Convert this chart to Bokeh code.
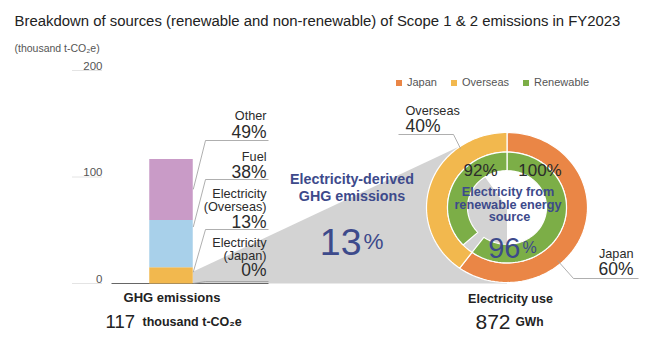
import numpy as np
from bokeh.plotting import figure
from bokeh.models import Range1d, Legend, LegendItem
from bokeh.core.properties import value
from bokeh.embed import file_html
from bokeh.resources import INLINE

# ---------------- data ----------------
ghg_sources = ["Electricity (Japan)", "Electricity (Overseas)", "Fuel", "Other"]
ghg_share_pct = [0, 13, 38, 49]
ghg_values = [0.0, 15.2, 44.5, 57.3]          # thousand t-CO2e
ghg_total = 117
axis_ticks = [0, 100, 200]
axis_tick_labels = ["0", "100", "200"]

elec_regions = ["Japan", "Overseas"]
elec_share_pct = [60, 40]
renewable_pct = [100, 92]
renewable_total_pct = 96
elec_ghg_pct = 13
elec_use_gwh = 872

# ---------------- style / layout ----------------
W, H = 650, 340
BASE = 283.0      # pixel row of the zero line
K = 1.065         # pixels per thousand t-CO2e
FONT = "Liberation Sans"
NAVY = "#3d4a8b"
DARK = "#2b2b2b"
LEAD = "#9a9a9a"
bar_colors = {"Electricity (Japan)": "#ea8646", "Electricity (Overseas)": "#f2b84e",
              "Fuel": "#a8d0ea", "Other": "#c99bc7"}
ring_colors = {"Japan": "#ea8646", "Overseas": "#f2b84e"}
GREEN = "#7cae47"


def Y(py):
    return (BASE - py) / K


p = figure(width=W, height=H, output_backend="svg", toolbar_location=None,
           x_range=Range1d(0, W), y_range=Range1d(Y(H), Y(0)),
           min_border=0, min_border_left=0, min_border_right=0,
           min_border_top=0, min_border_bottom=0)
p.axis.visible = False
p.grid.visible = False
p.outline_line_color = None
p.background_fill_color = "white"


def T(x, py, s, size, color=DARK, align="left", bold=False, baseline="middle"):
    p.text(x=[x], y=[Y(py)], text=[s], text_font=value(FONT),
           text_font_size=f"{size}px", text_align=align, text_baseline=baseline,
           text_color=color, text_font_style="bold" if bold else "normal")


# ---------------- donut geometry ----------------
CX, CY = 506.5, Y(207)
ASP = 0.932
R_OUT, R_MID, R_IN = 80.5, 59.5, 39.5


def arc_patch(t0, t1, r_out, r_in):
    th = np.radians(np.linspace(t0, t1, 80))
    xo = CX + r_out * np.sin(th)
    yo = CY + r_out * ASP / K * np.cos(th)
    xi = CX + r_in * np.sin(th[::-1])
    yi = CY + r_in * ASP / K * np.cos(th[::-1])
    return list(np.concatenate([xo, xi])), list(np.concatenate([yo, yi]))


# ---------------- grey wedge ----------------
BAR_X, BAR_W = 170.5, 43.5
bar_right = BAR_X + BAR_W / 2
tang = np.radians(326)
tx = CX + R_OUT * np.sin(tang)
ty = CY + R_OUT * ASP / K * np.cos(tang)
p.patch(x=[bar_right, bar_right, tx, CX, CX], y=[0, ghg_values[1] * 0.72, ty, CY, 0],
        fill_color="#d3d3d3", line_color=None)

# ---------------- axis ticks (text) ----------------
p.segment(x0=[72] * 3, x1=[102] * 3, y0=axis_ticks, y1=axis_ticks,
          line_color="#c8c8c8", line_dash="1 1", line_width=1)
p.text(x=[102] * 3, y=axis_ticks, text=axis_tick_labels, text_font=value(FONT),
       text_font_size="11.5px", text_align="right", text_baseline="bottom",
       text_color="#555555", y_offset=-1)
p.segment(x0=[111], x1=[268], y0=[0], y1=[0], line_color="#666666", line_width=1)

# ---------------- stacked bar ----------------
bottoms = list(np.cumsum([0] + ghg_values[:-1]))
tops = list(np.cumsum(ghg_values))
p.vbar(x=[BAR_X] * len(ghg_values), width=BAR_W, bottom=bottoms, top=tops,
       fill_color=[bar_colors[s] for s in ghg_sources], line_color=None)

# ---------------- donut ----------------
angles = np.cumsum([0] + [v * 3.6 for v in elec_share_pct])
outer_r = {}
for i, reg in enumerate(elec_regions):
    xs, ys = arc_patch(angles[i], angles[i + 1], R_OUT, R_MID)
    outer_r[reg] = p.patch(x=xs, y=ys, fill_color=ring_colors[reg],
                           line_color="white", line_width=1.2)
gx, gy = [], []
for i, reg in enumerate(elec_regions):
    span = angles[i + 1] - angles[i]
    start = angles[i] + (1 - renewable_pct[i] / 100) * span
    xs, ys = arc_patch(start, angles[i + 1], R_MID, R_IN)
    gx.append(xs)
    gy.append(ys)
r_green = p.patches(xs=gx, ys=gy, fill_color=GREEN, line_color="white", line_width=1.2)

legend = Legend(items=[LegendItem(label="Japan", renderers=[outer_r["Japan"]]),
                       LegendItem(label="Overseas", renderers=[outer_r["Overseas"]]),
                       LegendItem(label="Renewable", renderers=[r_green])],
                orientation="horizontal", location=(394, 252),
                glyph_width=9, glyph_height=9, label_height=10, label_standoff=4,
                spacing=12, padding=0, margin=0, border_line_color=None,
                background_fill_alpha=0, label_text_font=FONT,
                label_text_font_size="11px", label_text_color="#555555")
p.add_layout(legend)

# ---------------- title ----------------
T(14, 20, "Breakdown of sources (renewable and non-renewable) of Scope 1 & 2 emissions in FY2023", 14.9, "#222222")
T(14, 47, "(thousand t-CO\u2082e)", 10.5, "#555555")

# ---------------- bar labels and leaders ----------------
label_lines = {
    "Other": (["Other"], [115.7], 131.0, 140),
    "Fuel": (["Fuel"], [156.0], 171.0, 179),
    "Electricity (Overseas)": (["Electricity", "(Overseas)"], [193.3, 206.5], 221.0, 229),
    "Electricity (Japan)": (["Electricity", "(Japan)"], [242.7, 255.5], 269.5, 281),
}
lead_frac = {"Other": 0.5, "Fuel": 0.85, "Electricity (Overseas)": 0.7, "Electricity (Japan)": 0.0}
for i, src in enumerate(ghg_sources):
    lines, pys, pct_py, line_py = label_lines[src]
    for s, py in zip(lines, pys):
        T(266, py, s, 12.7, DARK, "right")
    T(266, pct_py, f"{ghg_share_pct[i]}%", 17.5, DARK, "right")
    end_y = bottoms[i] + lead_frac[src] * ghg_values[i]
    p.line(x=[268, 205, bar_right + 0.5], y=[Y(line_py), Y(line_py), end_y],
           line_color=LEAD, line_width=0.8)

# ---------------- centre annotation ----------------
T(351.5, 178.5, "Electricity-derived", 14.3, NAVY, "center", True)
T(351.5, 195.5, "GHG emissions", 14.3, NAVY, "center", True)
T(361, 241, f"{elec_ghg_pct}", 37.5, NAVY, "right", baseline="alphabetic")
T(363, 241, "%", 22.5, NAVY, "left", baseline="alphabetic")

# ---------------- donut labels ----------------
T(480, 170, f"{renewable_pct[1]}%", 17, DARK, "center")
T(539.5, 170, f"{renewable_pct[0]}%", 17, DARK, "center")
T(507.5, 191.7, "Electricity from", 12.7, NAVY, "center", True)
T(507.5, 204.5, "renewable energy", 12.7, NAVY, "center", True)
T(509, 216.7, "source", 12.7, NAVY, "center", True)
T(520, 247, f"{renewable_total_pct}", 29, NAVY, "right", baseline="alphabetic")
T(522, 247, "%", 16, NAVY, "left", baseline="alphabetic")

T(405, 110, "Overseas", 12.7, DARK, "left")
T(405, 125.5, f"{elec_share_pct[1]}%", 17.5, DARK, "left")
p.line(x=[398, 453, 460], y=[Y(134), Y(134), Y(148)], line_color=LEAD, line_width=0.8)
T(633, 253, "Japan", 12.7, DARK, "right")
T(633, 268.5, f"{elec_share_pct[0]}%", 17.5, DARK, "right")
p.line(x=[557, 573, 638], y=[Y(260), Y(278), Y(278)], line_color=LEAD, line_width=0.8)

# ---------------- bottom captions ----------------
T(171.5, 297, "GHG emissions", 13, "#222222", "center", True)
T(105, 321, f"{ghg_total}", 18.5, "#222222", "left", baseline="alphabetic")
T(142, 321, "thousand t-CO\u2082e", 12.5, "#222222", "left", True, baseline="alphabetic")
T(510, 298, "Electricity use", 12.5, "#222222", "center", True)
T(475, 321.5, f"{elec_use_gwh}", 21, "#222222", "left", baseline="alphabetic")
T(515, 321.5, "GWh", 12, "#222222", "left", True, baseline="alphabetic")

open("out.html", "w").write(file_html(p, INLINE))
